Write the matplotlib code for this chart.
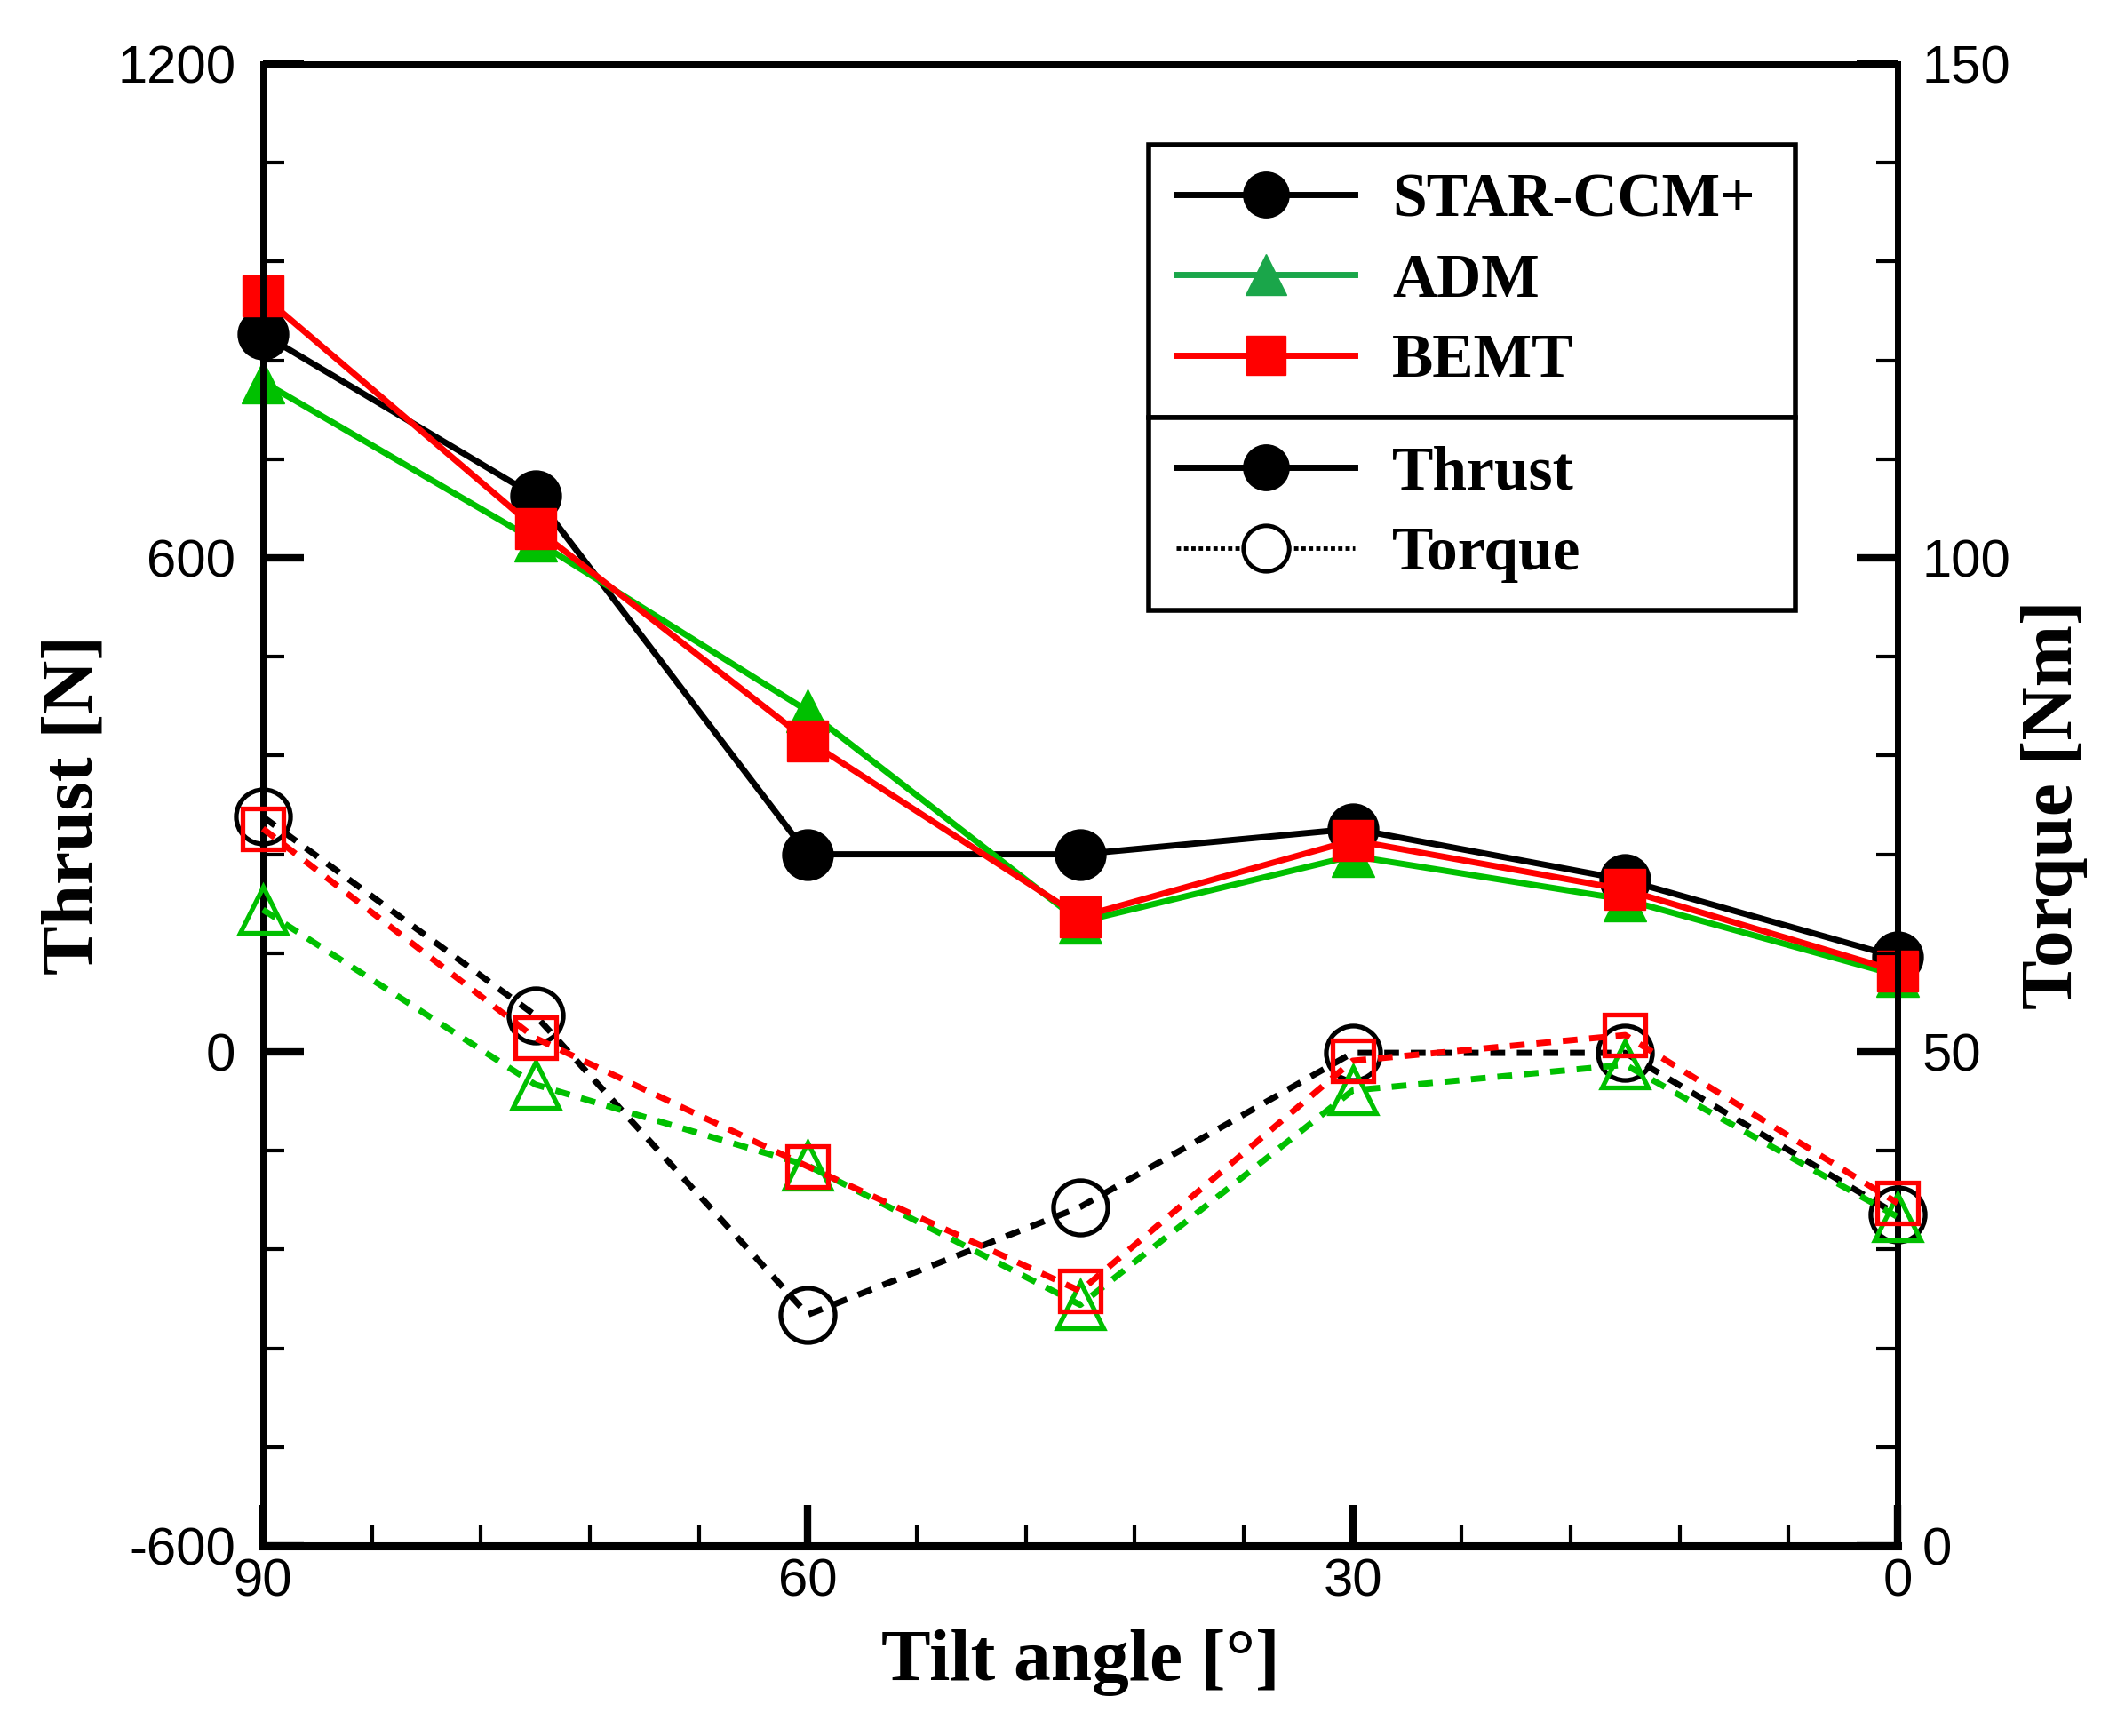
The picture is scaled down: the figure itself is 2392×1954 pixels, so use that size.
import matplotlib
matplotlib.use("Agg")
import matplotlib.pyplot as plt
from matplotlib.lines import Line2D
from matplotlib.ticker import FixedLocator, MultipleLocator

plt.rcParams['axes.unicode_minus'] = False

# ---------------- data ----------------
tilt = [90, 75, 60, 45, 30, 15, 0]

thrust_star = [872, 675, 240, 240, 271, 209, 115]
thrust_adm = [814, 621, 414, 158, 238, 185, 93]
thrust_bemt = [918, 636, 378, 164, 257, 197, 98]

torque_star = [73.8, 53.7, 23.4, 34.3, 49.9, 49.9, 33.5]
torque_adm = [64.4, 46.7, 38.5, 24.4, 46.1, 48.7, 33.3]
torque_bemt = [72.6, 51.4, 38.4, 25.8, 49.1, 51.7, 34.7]

left_ticks = [1200, 600, 0, -600]
right_ticks = [150, 100, 50, 0]
x_ticks = [90, 60, 30, 0]

legend_models = ["STAR-CCM+", "ADM", "BEMT"]
legend_kinds = ["Thrust", "Torque"]

# ---------------- style ----------------
BLACK = "#000000"
GREEN = "#00c000"
RED = "#ff0000"
SERIF = "Liberation Serif"
SANS = "Liberation Sans"

fig = plt.figure(figsize=(23.92, 19.54), dpi=100)
ax = fig.add_axes([0.1237, 0.1095, 0.7693, 0.8537])
ax2 = ax.twinx()

lw = 5.0
# thrust (solid, filled)
ax.plot(tilt, thrust_star, color=BLACK, lw=lw, marker='o', ms=41, mfc=BLACK, mec=BLACK,
        zorder=3, clip_on=False)
ax.plot(tilt, thrust_adm, color=GREEN, lw=lw, marker='^', ms=34, mfc=GREEN, mec=GREEN,
        zorder=4, clip_on=False)
ax.plot(tilt, thrust_bemt, color=RED, lw=lw, marker='s', ms=33, mfc=RED, mec=RED,
        zorder=5, clip_on=False)

# torque (dashed, open)
dash = (2.4, 1.9)
ax2.plot(tilt, torque_star, color=BLACK, lw=lw, ls=(0, dash), marker='o', ms=44, mfc='none',
         mec=BLACK, mew=3.8, zorder=3, clip_on=False)
ax2.plot(tilt, torque_adm, color=GREEN, lw=lw, ls=(0, dash), marker='^', ms=38, mfc='none',
         mec=GREEN, mew=3.8, zorder=4, clip_on=False)
ax2.plot(tilt, torque_bemt, color=RED, lw=lw, ls=(0, dash), marker='s', ms=33, mfc='none',
         mec=RED, mew=3.8, zorder=5, clip_on=False)

# axes limits
ax.set_xlim(90, 0)
ax.set_ylim(-600, 1200)
ax2.set_ylim(0, 150)

for a in (ax, ax2):
    for s in a.spines.values():
        s.set_linewidth(5)
    a.spines['bottom'].set_linewidth(6.5)

# ticks
ax.xaxis.set_major_locator(FixedLocator(x_ticks))
ax.xaxis.set_minor_locator(MultipleLocator(6))
ax.yaxis.set_major_locator(FixedLocator(left_ticks))
ax.yaxis.set_minor_locator(MultipleLocator(120))
ax2.yaxis.set_major_locator(FixedLocator(right_ticks))
ax2.yaxis.set_minor_locator(MultipleLocator(10))

ax.set_xticklabels([str(v) for v in x_ticks])
ax.set_yticklabels([str(v) for v in left_ticks])
ax2.set_yticklabels([str(v) for v in right_ticks])

ax.tick_params(axis='both', which='major', direction='in', length=33, width=6,
               labelsize=43, top=False, right=False)
ax.tick_params(axis='both', which='minor', direction='in', length=17, width=3,
               top=False, right=False)
ax.tick_params(axis='y', which='major', pad=22)
ax.tick_params(axis='x', which='major', pad=10)
ax2.tick_params(axis='y', which='major', direction='in', length=33, width=6,
                labelsize=43, pad=20)
ax2.tick_params(axis='y', which='minor', direction='in', length=17, width=3)

for lab in ax.get_xticklabels() + ax.get_yticklabels() + ax2.get_yticklabels():
    lab.set_fontfamily(SANS)

ax.set_xlabel("Tilt angle [°]", fontsize=60, fontweight='bold', family=SERIF, labelpad=18)
ax.set_ylabel("Thrust [N]", fontsize=60, fontweight='bold', family=SERIF, labelpad=8)
ax2.set_ylabel("Torque [Nm]", fontsize=60, fontweight='bold', family=SERIF, labelpad=8)

# ---------------- legend ----------------
h_models = [
    Line2D([], [], color=BLACK, lw=lw, marker='o', ms=37, mfc=BLACK, mec=BLACK),
    Line2D([], [], color="#1aa64a", lw=lw, marker='^', ms=33, mfc="#1aa64a", mec="#1aa64a"),
    Line2D([], [], color=RED, lw=lw, marker='s', ms=31, mfc=RED, mec=RED),
]
h_kinds = [
    Line2D([], [], color=BLACK, lw=lw, marker='o', ms=37, mfc=BLACK, mec=BLACK),
    Line2D([], [], color=BLACK, lw=3.5, ls=(0, (1, 0.7)), marker='o', ms=37, mfc='white',
           mec=BLACK, mew=3.5),
]
legprops = dict(family=SERIF, weight='bold', size=50)
common = dict(mode='expand', fancybox=False, framealpha=1, edgecolor=BLACK,
              handlelength=2.9, handletextpad=0.6, borderpad=0.45, labelspacing=0.38,
              numpoints=1, prop=legprops, borderaxespad=0)
leg1 = ax2.legend(h_models, legend_models, loc='lower left',
                  bbox_to_anchor=(0.5417, 0.7612, 0.396, 0.0), **common)
leg1.get_frame().set_linewidth(4)
ax2.add_artist(leg1)
leg2 = ax2.legend(h_kinds, legend_kinds, loc='upper left',
                  bbox_to_anchor=(0.5417, 0.7612, 0.396, 0.0), **common)
leg2.get_frame().set_linewidth(4)

fig.savefig("out.png", dpi=100, facecolor='white')
